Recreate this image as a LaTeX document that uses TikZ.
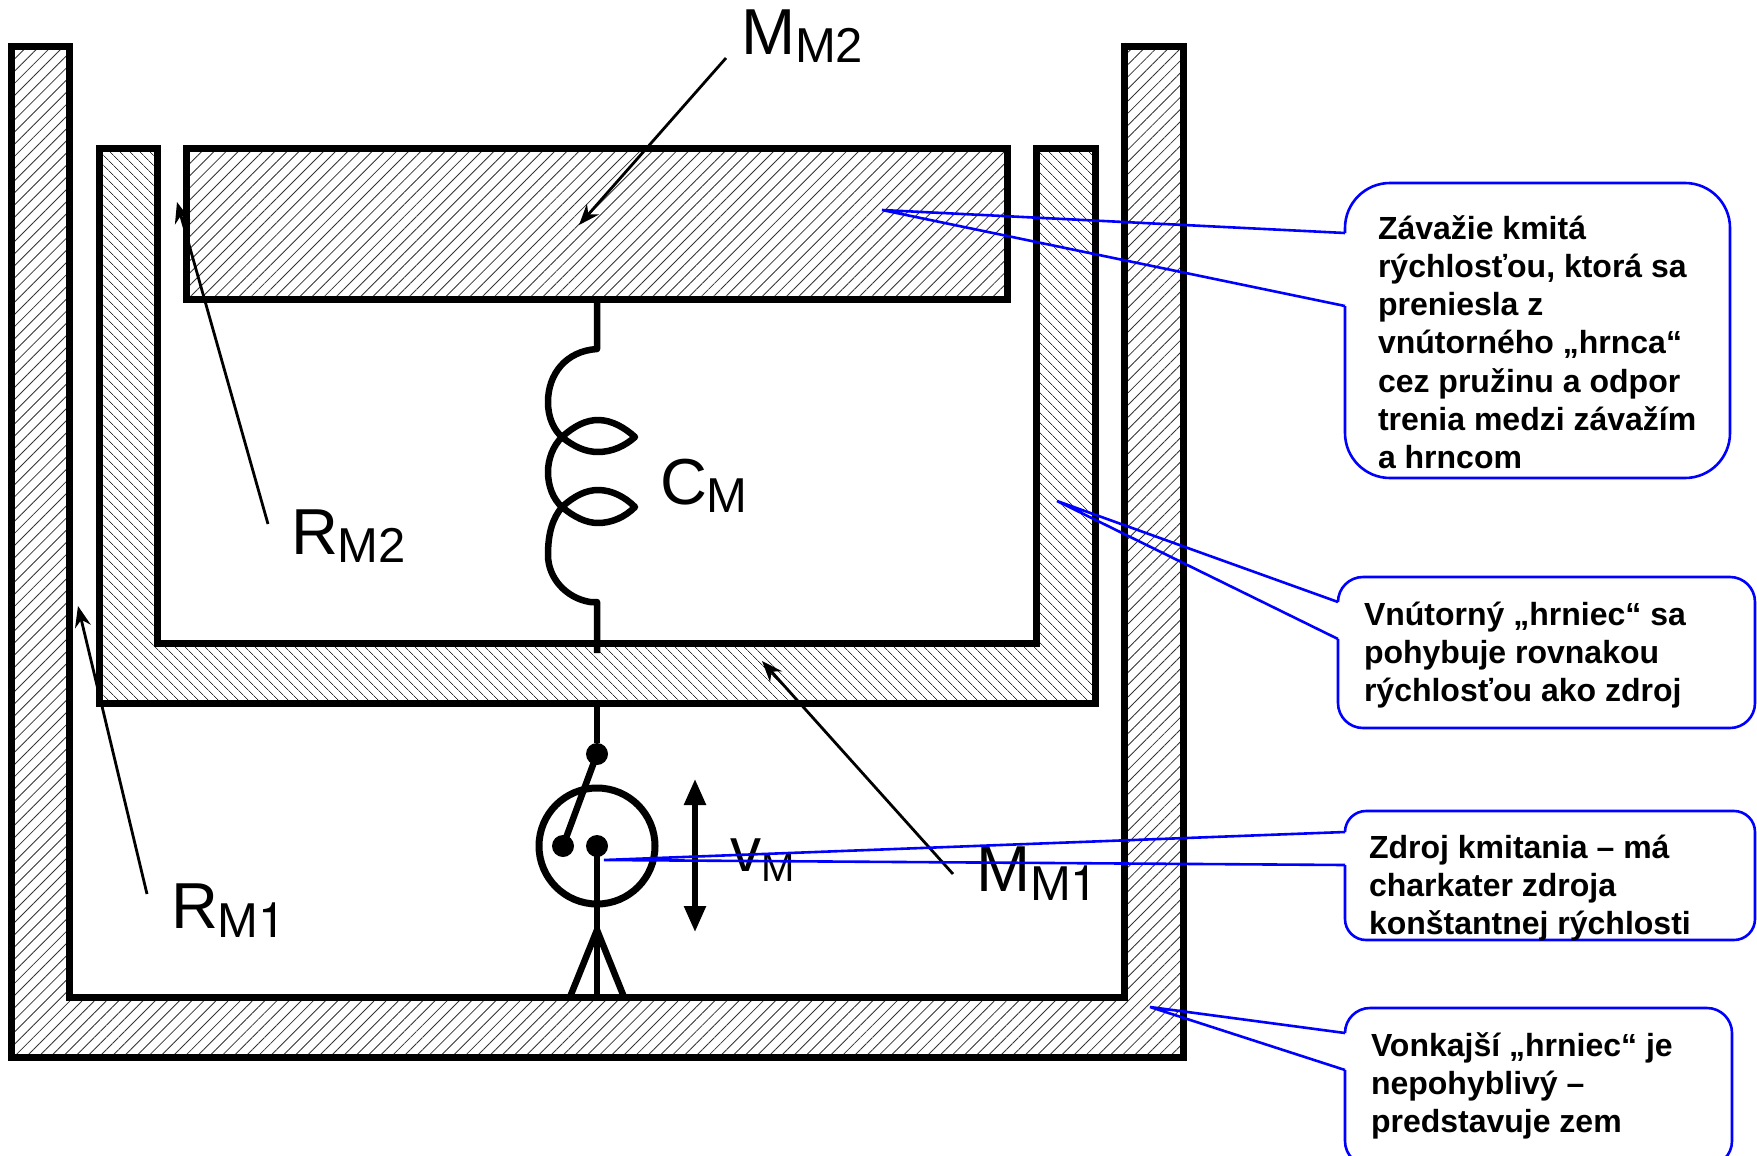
\documentclass[tikz,border=0pt]{standalone}
\usepackage{fontspec}
\setmainfont{Liberation Sans}
\newfontfamily\heros{TeX Gyre Heros}
\usetikzlibrary{patterns.meta,arrows.meta}
\newcommand{\biglab}[5]{{\fontsize{#3}{#3}\selectfont #1}\raisebox{-#5pt}{\fontsize{#4}{#4}\selectfont #2}}
\tikzset{
  wall/.style={draw=black,line width=7pt,miter limit=10},
  hatchA/.style={wall,pattern={Lines[angle=45,distance=8.6pt,line width=0.85pt]},pattern color=black!80},
  hatchB/.style={wall,pattern={Lines[angle=-45,distance=7.4pt,line width=0.85pt]},pattern color=black!80},
  rod/.style={draw=black,line width=6.5pt},
  dot/.style={fill=black,circle,inner sep=0pt,minimum size=22pt},
  pointerline/.style={draw=black,line width=2.8pt,-{Stealth[length=21pt,width=16pt]}},
  lab/.style={inner sep=0pt,outer sep=0pt,anchor=base west,text=black},
  callout/.style={draw=blue,line width=2.6pt,line join=miter},
  note/.style={inner sep=0pt,outer sep=0pt,anchor=north west,align=left,text=black,font=\fontsize{32}{38.3}\selectfont\bfseries},
}
\newcommand{\firstline}{\rule{0pt}{30pt}}
\begin{document}
\begin{tikzpicture}[x=1pt,y=-1pt]
\useasboundingbox (0,0) rectangle (1757,1156);
% pots and mass
\path[hatchA] (11,47) -- (69,47) -- (69,997) -- (1124,997) -- (1124,47) -- (1183,47) -- (1183,1057) -- (11,1057) -- cycle;
\path[hatchB] (99,148) -- (157,148) -- (157,643) -- (1036,643) -- (1036,148) -- (1095,148) -- (1095,703) -- (99,703) -- cycle;
\path[hatchA] (186,148) rectangle (1007,299);
% spring
\coordinate (sprTop) at (597,299);
\coordinate (sprBot) at (597,653);
\draw[rod,line join=round] (sprTop) -- (597,349)
  .. controls (566,351) and (548,374) .. (548,402)
  .. controls (548,418) and (554,430) .. (562,437)
  .. controls (574,447) and (586,452) .. (598,452)
  .. controls (612,452) and (625,446) .. (635,437)
  .. controls (625,428) and (612,420) .. (598,420)
  .. controls (586,420) and (574,426) .. (562,437)
  .. controls (553,446) and (548,459) .. (548,472)
  .. controls (548,486) and (553,499) .. (562,507)
  .. controls (574,517) and (586,523) .. (598,523)
  .. controls (612,523) and (625,517) .. (635,507)
  .. controls (625,497) and (612,490) .. (598,490)
  .. controls (586,490) and (574,496) .. (562,507)
  .. controls (553,518) and (548,532) .. (548,555)
  .. controls (548,578) and (566,598) .. (590,602)
  -- (597,602) -- (sprBot);
% source
\node[dot] (dotTop) at (597,754) {};
\node[dot] (dotLeft) at (563,846) {};
\node[dot] (dotMid) at (597,846) {};
\node[circle,draw=black,line width=7pt,minimum size=116pt,inner sep=0pt] (src) at (597,846) {};
\coordinate (potBase) at (597,703);
\coordinate (apex) at (597,930);
\coordinate (floorMid) at (597,997);
\coordinate (footL) at (570,997);
\coordinate (footR) at (624,997);
\draw[rod] (potBase) -- (dotTop);
\draw[rod] (dotTop.center) -- (dotLeft.center);
\draw[rod] (dotMid.center) -- (floorMid);
\draw[rod,line join=miter] (footL) -- (apex) -- (footR);
% double arrow
\coordinate (vTop) at (695,779);
\coordinate (vBot) at (695,932);
\draw[draw=black,line width=5.5pt,{Triangle[length=26pt,width=21pt]}-{Triangle[length=26pt,width=21pt]}] (vTop) -- (vBot);
% labels
\node[lab] (mm2) at (741,55) {\biglab{M}{M2}{65}{49}{8}};
\node[lab] (rm2) at (291,554) {\biglab{R}{M2}{65}{49}{8}};
\node[lab] (rm1) at (171,928) {\biglab{R}{M{\heros 1}}{65}{49}{9}};
\node[lab] (mm1) at (976,891) {\biglab{M}{M{\heros 1}}{65}{49}{9}};
\node[lab] (cm) at (660,504) {\biglab{C}{M}{65}{49}{8}};
\node[lab] (vm) at (730,871) {\biglab{v}{M}{62}{40}{10}};
% black leaders
\coordinate (mm2from) at (726,58);
\coordinate (mm2to) at (579,225);
\coordinate (rm2from) at (268,524);
\coordinate (rm2to) at (177,202);
\coordinate (rm1from) at (147,894);
\coordinate (rm1to) at (78,606);
\coordinate (mm1from) at (953,874);
\coordinate (mm1to) at (762,661);
\draw[pointerline] (mm2from) -- (mm2to);
\draw[pointerline] (rm2from) -- (rm2to);
\draw[pointerline] (rm1from) -- (rm1to);
\draw[pointerline] (mm1from) -- (mm1to);
% callout 1
\coordinate (t1) at (882,210);
\draw[callout,rounded corners=45pt] (1345,306) -- (1345,478) -- (1730,478) -- (1730,183) -- (1345,183) -- (1345,233);
\draw[callout] (1345,233) -- (t1) -- (1345,306);
\node[note] (n1) at (1378,209) {\firstline Závažie kmitá\\rýchlosťou, ktorá sa\\preniesla z\\vnútorného „hrnca“\\cez pružinu a odpor\\trenia medzi závažím\\a hrncom};
% callout 2
\coordinate (t2) at (1057,501);
\draw[callout,rounded corners=25pt] (1338,639) -- (1338,728) -- (1755,728) -- (1755,577) -- (1338,577) -- (1338,602);
\draw[callout] (1338,602) -- (t2) -- (1338,639);
\node[note] (n2) at (1364,595) {\firstline Vnútorný „hrniec“ sa\\pohybuje rovnakou\\rýchlosťou ako zdroj};
% callout 3
\coordinate (t3) at (604,860);
\draw[callout,rounded corners=21pt] (1345,865) -- (1345,940) -- (1755,940) -- (1755,811) -- (1345,811) -- (1345,832);
\draw[callout] (1345,832) -- (t3) -- (1345,865);
\node[note] (n3) at (1369,828) {\firstline Zdroj kmitania – má\\charkater zdroja\\konštantnej rýchlosti};
% callout 4
\coordinate (t4) at (1150,1007);
\draw[callout,rounded corners=25pt] (1345,1070) -- (1345,1166) -- (1732,1166) -- (1732,1008) -- (1345,1008) -- (1345,1033);
\draw[callout] (1345,1033) -- (t4) -- (1345,1070);
\node[note] (n4) at (1371,1026) {\firstline Vonkajší „hrniec“ je\\nepohyblivý –\\predstavuje zem};
\end{tikzpicture}
\end{document}
